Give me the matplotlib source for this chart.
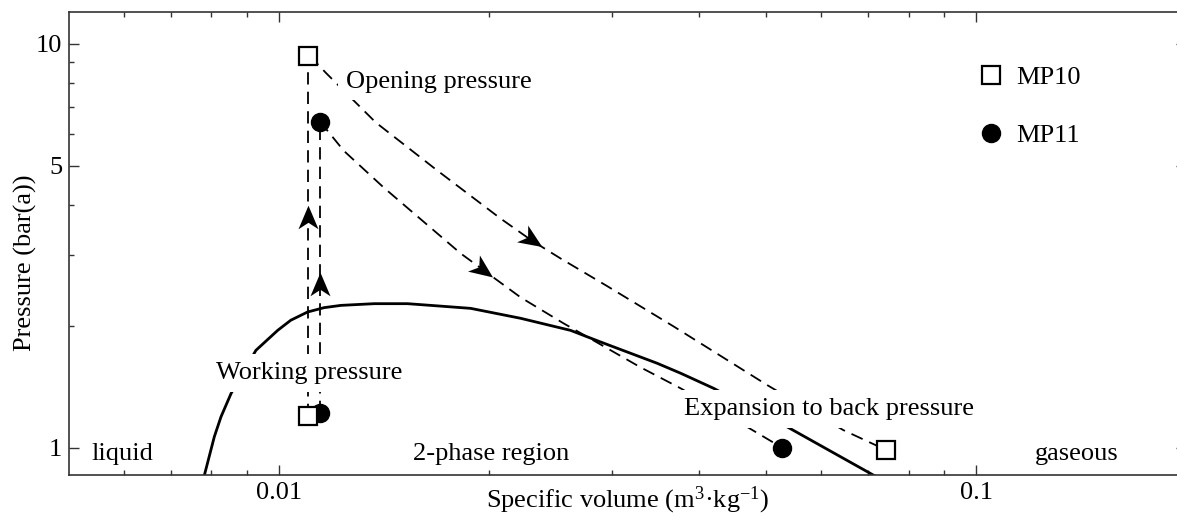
import numpy as np
import matplotlib
matplotlib.use("Agg")
import matplotlib.pyplot as plt
from matplotlib.path import Path
from matplotlib.markers import MarkerStyle
from matplotlib.transforms import Affine2D
from matplotlib.ticker import NullFormatter

plt.rcParams["font.family"] = ["Liberation Serif", "DejaVu Serif"]
plt.rcParams["font.size"] = 19
plt.rcParams["mathtext.fontset"] = "custom"
plt.rcParams["mathtext.rm"] = "Liberation Serif"
plt.rcParams["mathtext.it"] = "Liberation Serif:italic"

# state points, specific volume (m3/kg) and pressure (bar(a))
mp10_v = [0.0110, 0.0110, 0.0743]
mp10_p = [1.20, 9.34, 0.987]
mp11_v = [0.01146, 0.01146, 0.0527]
mp11_p = [1.22, 6.42, 1.00]

# saturation dome
sat_v = [0.00782, 0.00808, 0.00826, 0.00854, 0.00927, 0.00996, 0.01040, 0.01099,
         0.01161, 0.01227, 0.01370, 0.01529, 0.01651, 0.01884, 0.02222, 0.02620,
         0.02893, 0.03487, 0.03767, 0.04200, 0.05355, 0.0717]
sat_p = [0.856, 1.065, 1.193, 1.363, 1.743, 1.953, 2.069, 2.168,
         2.223, 2.252, 2.274, 2.274, 2.252, 2.214, 2.092, 1.953,
         1.828, 1.619, 1.530, 1.404, 1.127, 0.85]

# expansion paths opening pressure -> back pressure
exp10_v = [0.01108, 0.01168, 0.01377, 0.01688, 0.02080, 0.02304, 0.02535, 0.02961,
           0.03681, 0.05018, 0.06448, 0.0743]
exp10_p = [9.34, 8.479, 6.392, 4.857, 3.694, 3.261, 2.943, 2.510,
           1.998, 1.429, 1.106, 0.987]
exp11_v = [0.01146, 0.01239, 0.01414, 0.01823, 0.02222, 0.02560, 0.03301, 0.03767,
           0.04698, 0.0527]
exp11_p = [6.42, 5.439, 4.408, 3.028, 2.357, 2.033, 1.582, 1.404,
           1.125, 1.00]

# where the arrowheads sit
arrow10_diag_v = 0.02304
arrow11_diag_v = 0.0196
arrow10_up_p = 3.72
arrow11_up_p = 2.54

DASH = dict(color="k", lw=1.3, dashes=(6.8, 4.0), zorder=2)
STEALTH = Path([(1, 0), (-1, 0.85), (-0.45, 0), (-1, -0.85), (1, 0)],
               [Path.MOVETO, Path.LINETO, Path.LINETO, Path.LINETO, Path.CLOSEPOLY])

fig = plt.figure(figsize=(11.77, 5.16), dpi=100)
ax = fig.add_axes([69 / 1177, 41 / 516, 1117 / 1177, 463 / 516])
ax.set_xscale("log")
ax.set_yscale("log")
ax.set_xlim(0.005, 0.2)
ax.set_ylim(0.856, 12)


def head(v, p, angle):
    m = MarkerStyle(STEALTH, transform=Affine2D().rotate_deg(angle))
    ax.plot([v], [p], ls="none", marker=m, ms=17, color="k", mew=0, zorder=3.5)


def head_on_path(vs, ps, v0):
    lv, lp = np.log10(vs), np.log10(ps)
    l0 = np.log10(v0)
    a = [10 ** (l0 - 0.01), 10 ** np.interp(l0 - 0.01, lv, lp)]
    b = [10 ** (l0 + 0.01), 10 ** np.interp(l0 + 0.01, lv, lp)]
    (x1, y1), (x2, y2) = ax.transData.transform([a, b])
    head(v0, 10 ** np.interp(l0, lv, lp), np.degrees(np.arctan2(y2 - y1, x2 - x1)))


ax.plot(sat_v, sat_p, color="k", lw=2.0, zorder=2, solid_joinstyle="round")
ax.plot(exp10_v, exp10_p, **DASH)
ax.plot(exp11_v, exp11_p, **DASH)
ax.plot(mp10_v[:2], mp10_p[:2], **DASH)
ax.plot(mp11_v[:2], mp11_p[:2], **DASH)

head_on_path(exp10_v, exp10_p, arrow10_diag_v)
head_on_path(exp11_v, exp11_p, arrow11_diag_v)
head(mp10_v[0], arrow10_up_p, 90)
head(mp11_v[0], arrow11_up_p, 90)

ax.plot(mp11_v, mp11_p, ls="none", marker="o", ms=13, color="k", zorder=4, label="MP11")
ax.plot(mp10_v, mp10_p, ls="none", marker="s", ms=13, mfc="white", mec="k", mew=1.6,
        zorder=5, label="MP10")

box = dict(boxstyle="square,pad=0.3", fc="white", ec="none")
ax.text(0.01247, 7.80, "Opening pressure", ha="left", va="baseline", bbox=box, zorder=3)
ax.text(0.00812, 1.483, "Working pressure", ha="left", va="baseline", bbox=box, zorder=3)
ax.text(0.03809, 1.205, "Expansion to back pressure", ha="left", va="baseline", bbox=box, zorder=3)
ax.text(0.00538, 0.932, "liquid", ha="left", va="baseline")
ax.text(0.01556, 0.932, "2-phase region", ha="left", va="baseline")
ax.text(0.1215, 0.935, "gaseous", ha="left", va="baseline")

h, l = ax.get_legend_handles_labels()
ax.legend(h[::-1], l[::-1], loc="upper left", bbox_to_anchor=(0.814, 0.884), frameon=False,
          borderpad=0, borderaxespad=0, handlelength=1.0, handletextpad=0.45,
          labelspacing=1.3, numpoints=1)

ax.set_xticks([0.01, 0.1], labels=["0.01", "0.1"])
ax.set_xticks([0.006, 0.007, 0.008, 0.009, 0.02, 0.03, 0.04, 0.05, 0.06, 0.07, 0.08, 0.09],
              minor=True)
ax.set_yticks([1, 5, 10], labels=["1", "5", "10"])
ax.set_yticks([2, 3, 4, 6, 7, 8, 9], minor=True)
ax.xaxis.set_minor_formatter(NullFormatter())
ax.yaxis.set_minor_formatter(NullFormatter())
ax.tick_params(which="both", direction="in", top=True, right=True, color="#333333", width=1.0, pad=5)
ax.tick_params(which="major", length=7.2)
ax.tick_params(which="minor", length=3.6)
for s in ax.spines.values():
    s.set_color("#333333")
    s.set_linewidth(1.2)
ax.spines["right"].set_visible(False)

ax.set_xlabel(r"Specific volume (m$^{3}$·kg$^{-1}$)")
ax.set_ylabel("Pressure (bar(a))")
ax.xaxis.set_label_coords(0.5, -0.021)
ax.yaxis.set_label_coords(-0.0286, 0.458)

fig.savefig("out.png", dpi=100)
